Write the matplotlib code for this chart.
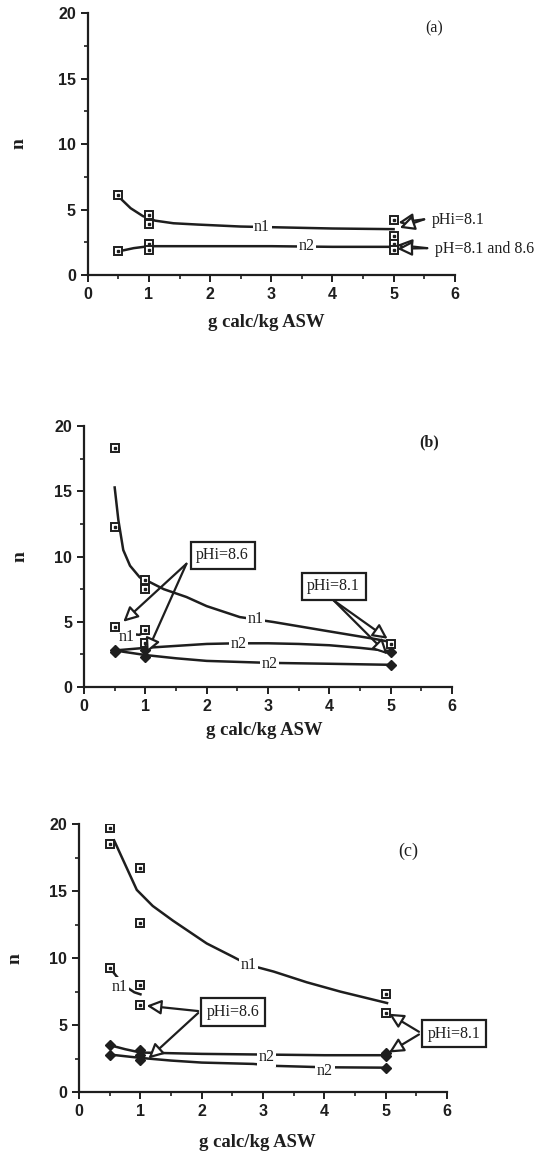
import matplotlib
matplotlib.use("Agg")
import matplotlib.pyplot as plt
from matplotlib.ticker import MultipleLocator

INK = "#1e1e1e"
SERIF = ["Liberation Serif", "DejaVu Serif"]
SANS = ["Liberation Sans", "DejaVu Sans"]

# ---- panel (a) ----
A_N1_X = [0.5, 1, 1, 5, 5]
A_N1_Y = [6.1, 4.6, 3.9, 4.2, 3.0]
A_N2_X = [0.5, 1, 1, 5, 5]
A_N2_Y = [1.8, 2.4, 1.9, 2.4, 1.9]
A_N1_CURVE_X = [0.5, 0.7, 0.9, 1.1, 1.4, 1.8, 2.5, 3.0, 4.0, 5.0]
A_N1_CURVE_Y = [6.0, 5.1, 4.5, 4.15, 3.95, 3.85, 3.7, 3.65, 3.55, 3.5]
A_N2_CURVE_X = [0.5, 0.75, 1.0, 2.0, 3.0, 4.0, 5.0]
A_N2_CURVE_Y = [1.8, 2.05, 2.2, 2.2, 2.2, 2.15, 2.15]

# ---- panel (b) ----
B_N1_X = [0.5, 0.5, 1, 1, 5]
B_N1_Y = [18.3, 12.3, 8.2, 7.5, 3.3]
B_N1_LOW_X = [0.5, 1, 1]
B_N1_LOW_Y = [4.6, 4.4, 3.4]
B_N2_X = [0.5, 0.5, 1, 1, 5, 5]
B_N2_Y = [2.85, 2.7, 2.8, 2.3, 2.7, 1.7]
B_N1_CURVE_X = [0.5, 0.56, 0.64, 0.75, 0.91, 1.07, 1.3, 1.67, 2.0, 2.54, 3.09, 3.9, 4.72, 5.0]
B_N1_CURVE_Y = [15.3, 12.8, 10.5, 9.3, 8.4, 8.05, 7.5, 6.9, 6.2, 5.36, 4.98, 4.34, 3.7, 3.45]
B_N1_LOW_CURVE_X = [0.5, 0.7, 0.9, 1.0]
B_N1_LOW_CURVE_Y = [4.6, 4.1, 4.0, 4.2]
B_N2_HI_CURVE_X = [0.5, 1.0, 1.5, 2.0, 2.5, 3.0, 3.5, 4.0, 4.5, 5.0]
B_N2_HI_CURVE_Y = [2.8, 3.0, 3.15, 3.3, 3.35, 3.35, 3.3, 3.2, 3.0, 2.75]
B_N2_LO_CURVE_X = [0.5, 1.0, 1.5, 2.0, 3.0, 4.0, 5.0]
B_N2_LO_CURVE_Y = [2.8, 2.45, 2.2, 2.0, 1.85, 1.78, 1.7]

# ---- panel (c) ----
C_N1_X = [0.5, 0.5, 1, 1, 5, 5]
C_N1_Y = [19.75, 18.5, 16.7, 12.6, 7.35, 5.9]
C_N1_LOW_X = [0.5, 1, 1]
C_N1_LOW_Y = [9.3, 8.0, 6.5]
C_N2_X = [0.5, 0.5, 1, 1, 1, 5, 5, 5]
C_N2_Y = [3.55, 2.8, 3.15, 2.8, 2.4, 2.9, 2.7, 1.8]
C_N1_CURVE_X = [0.57, 0.75, 0.94, 1.2, 1.53, 2.08, 2.51, 2.76, 3.17, 3.71, 4.26, 5.02]
C_N1_CURVE_Y = [18.8, 17.0, 15.1, 13.9, 12.8, 11.1, 10.1, 9.5, 9.0, 8.2, 7.5, 6.65]
C_N1_LOW_CURVE_X = [0.5, 0.6, 0.75, 0.9, 1.0]
C_N1_LOW_CURVE_Y = [9.3, 8.7, 7.9, 7.45, 7.3]
C_N2_HI_CURVE_X = [0.5, 0.75, 1.0, 2.0, 3.0, 4.0, 5.0]
C_N2_HI_CURVE_Y = [3.5, 3.2, 2.95, 2.85, 2.8, 2.75, 2.75]
C_N2_LO_CURVE_X = [0.5, 1.0, 1.5, 2.0, 2.84, 3.22, 4.0, 5.0]
C_N2_LO_CURVE_Y = [2.8, 2.55, 2.35, 2.2, 2.1, 1.95, 1.85, 1.82]

TEXT_SIZE = 11.5


def setup_axes(ax):
    ax.set_xlim(0, 6)
    ax.set_ylim(0, 20)
    for side in ("top", "right"):
        ax.spines[side].set_visible(False)
    for side in ("left", "bottom"):
        ax.spines[side].set_linewidth(1.6)
        ax.spines[side].set_color(INK)
    ax.xaxis.set_major_locator(MultipleLocator(1))
    ax.xaxis.set_minor_locator(MultipleLocator(0.5))
    ax.yaxis.set_major_locator(MultipleLocator(5))
    ax.yaxis.set_minor_locator(MultipleLocator(2.5))
    ax.tick_params(which="major", direction="out", length=5, width=1.4, color=INK,
                   labelsize=11.5, labelcolor=INK, pad=3.5)
    ax.tick_params(which="minor", direction="out", length=3, width=1.2, color=INK)
    for lab in ax.get_xticklabels() + ax.get_yticklabels():
        lab.set_family(SANS)
        lab.set_fontweight("bold")
    ax.set_xlabel("g calc/kg ASW", family=SERIF, fontweight="bold", fontsize=13.5, color=INK)
    ax.set_ylabel("n", family=SERIF, fontweight="bold", fontsize=14, color=INK, rotation=90)
    ax.patch.set_alpha(0)


def squares(ax, xs, ys, filled=False):
    ax.plot(xs, ys, ls="none", marker="s", ms=6, mfc=INK if filled else "white",
            mec=INK, mew=1.4, zorder=5)
    if not filled:
        ax.plot(xs, ys, ls="none", marker="s", ms=1.8, mfc=INK, mec=INK, zorder=6)


def diamonds(ax, xs, ys):
    ax.plot(xs, ys, ls="none", marker="D", ms=5.5, mfc=INK, mec=INK, zorder=5)


def curve(ax, xs, ys):
    ax.plot(xs, ys, color=INK, lw=1.8, zorder=3)


def curve_label(ax, x, y, text):
    ax.text(x, y, text, family=SERIF, fontsize=TEXT_SIZE, color=INK, ha="center", va="center",
            bbox=dict(boxstyle="square,pad=0.1", fc="white", ec="none"), zorder=4)


def arrow(ax, start, tip):
    ax.annotate("", xy=tip, xytext=start,
                arrowprops=dict(arrowstyle="-|>", fc="white", ec=INK, lw=1.6,
                                mutation_scale=22, shrinkA=0, shrinkB=0),
                annotation_clip=False, zorder=7)


def boxed(ax, x, y, text):
    ax.text(x, y, text, family=SERIF, fontsize=TEXT_SIZE, color=INK, ha="center", va="center",
            bbox=dict(boxstyle="square,pad=0.35", fc="white", ec=INK, lw=1.6),
            zorder=8, clip_on=False)


fig = plt.figure(figsize=(5.42, 11.54), dpi=100)

# (a)
ax_a = fig.add_axes([0.162, 0.7617, 0.677, 0.227])
setup_axes(ax_a)
curve(ax_a, A_N1_CURVE_X, A_N1_CURVE_Y)
curve(ax_a, A_N2_CURVE_X, A_N2_CURVE_Y)
squares(ax_a, A_N1_X, A_N1_Y)
squares(ax_a, A_N2_X, A_N2_Y)
curve_label(ax_a, 2.85, 3.65, "n1")
curve_label(ax_a, 3.57, 2.2, "n2")
arrow(ax_a, (5.5, 4.25), (5.08, 4.0))
arrow(ax_a, (5.5, 4.25), (5.1, 3.6))
arrow(ax_a, (5.55, 2.05), (5.06, 2.3))
arrow(ax_a, (5.55, 2.05), (5.06, 2.0))
ax_a.text(5.62, 4.2, "pHi=8.1", family=SERIF, fontsize=TEXT_SIZE, color=INK, ha="left",
          va="center", clip_on=False)
ax_a.text(5.68, 2.0, "pH=8.1 and 8.6", family=SERIF, fontsize=TEXT_SIZE, color=INK, ha="left",
          va="center", clip_on=False)
ax_a.text(5.67, 18.85, "(a)", family=SERIF, fontsize=TEXT_SIZE, color=INK, ha="center",
          va="center")
ax_a.xaxis.set_label_coords(0.487, -0.149)
ax_a.yaxis.set_label_coords(-0.163, 0.5)

# (b)
ax_b = fig.add_axes([0.155, 0.4047, 0.679, 0.226])
setup_axes(ax_b)
curve(ax_b, B_N1_CURVE_X, B_N1_CURVE_Y)
curve(ax_b, B_N1_LOW_CURVE_X, B_N1_LOW_CURVE_Y)
curve(ax_b, B_N2_HI_CURVE_X, B_N2_HI_CURVE_Y)
curve(ax_b, B_N2_LO_CURVE_X, B_N2_LO_CURVE_Y)
squares(ax_b, B_N1_X, B_N1_Y)
squares(ax_b, B_N1_LOW_X, B_N1_LOW_Y)
diamonds(ax_b, B_N2_X, B_N2_Y)
curve_label(ax_b, 2.79, 5.24, "n1")
curve_label(ax_b, 0.69, 3.83, "n1")
curve_label(ax_b, 2.52, 3.3, "n2")
curve_label(ax_b, 3.03, 1.75, "n2")
arrow(ax_b, (1.67, 9.45), (0.64, 5.0))
arrow(ax_b, (1.67, 9.45), (1.02, 2.6))
arrow(ax_b, (4.07, 6.64), (4.95, 3.7))
arrow(ax_b, (4.07, 6.64), (4.95, 2.5))
boxed(ax_b, 2.26, 10.09, "pHi=8.6")
boxed(ax_b, 4.07, 7.71, "pHi=8.1")
ax_b.text(5.62, 18.77, "(b)", family=SERIF, fontsize=TEXT_SIZE, fontweight="bold", color=INK,
          ha="center", va="center")
ax_b.xaxis.set_label_coords(0.49, -0.134)
ax_b.yaxis.set_label_coords(-0.152, 0.5)

# (c)
ax_c = fig.add_axes([0.146, 0.0537, 0.679, 0.232])
setup_axes(ax_c)
curve(ax_c, C_N1_CURVE_X, C_N1_CURVE_Y)
curve(ax_c, C_N1_LOW_CURVE_X, C_N1_LOW_CURVE_Y)
curve(ax_c, C_N2_HI_CURVE_X, C_N2_HI_CURVE_Y)
curve(ax_c, C_N2_LO_CURVE_X, C_N2_LO_CURVE_Y)
squares(ax_c, C_N1_X, C_N1_Y)
squares(ax_c, C_N1_LOW_X, C_N1_LOW_Y)
diamonds(ax_c, C_N2_X, C_N2_Y)
curve_label(ax_c, 2.76, 9.46, "n1")
curve_label(ax_c, 0.66, 7.85, "n1")
curve_label(ax_c, 3.06, 2.6, "n2")
curve_label(ax_c, 4.01, 1.6, "n2")
arrow(ax_c, (1.94, 6.05), (1.1, 6.45))
arrow(ax_c, (1.94, 5.9), (1.13, 2.5))
arrow(ax_c, (5.54, 4.5), (5.05, 5.85))
arrow(ax_c, (5.54, 4.3), (5.05, 2.95))
boxed(ax_c, 2.51, 5.98, "pHi=8.6")
boxed(ax_c, 6.11, 4.36, "pHi=8.1")
ax_c.text(5.37, 18.0, "(c)", family=SERIF, fontsize=13, color=INK, ha="center", va="center")
ax_c.xaxis.set_label_coords(0.485, -0.157)
ax_c.yaxis.set_label_coords(-0.15, 0.5)

fig.savefig("out.png", dpi=100, facecolor="white")
